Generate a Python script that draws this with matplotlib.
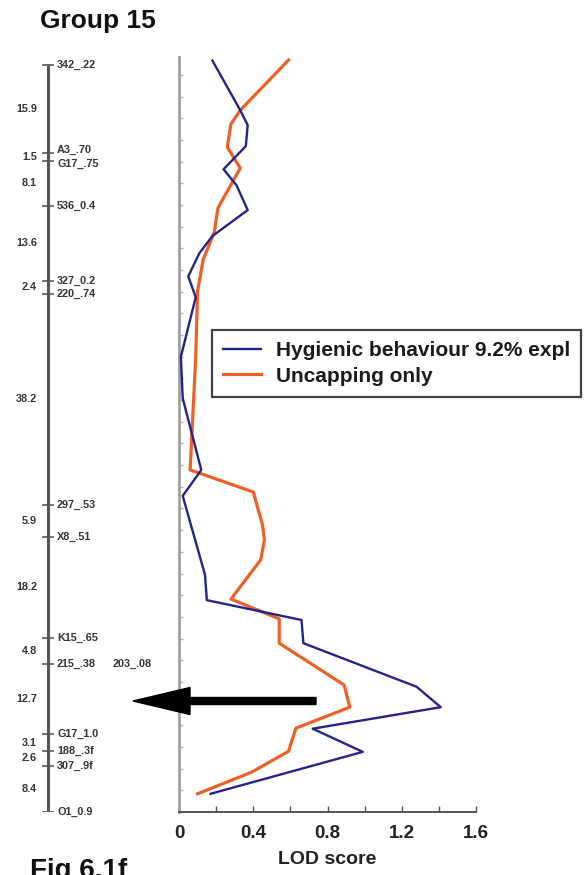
import numpy as np
import matplotlib
matplotlib.use("Agg")
import matplotlib.pyplot as plt
from matplotlib.patches import FancyArrow
from matplotlib.ticker import MultipleLocator, FixedLocator

plt.rcParams['font.family'] = ['Liberation Sans', 'DejaVu Sans']

# ---- linkage group 15: markers and interval lengths (cM) ----
marker_names = ["342_.22", "A3_.70", "G17_.75", "536_0.4", "327_0.2", "220_.74",
                "297_.53", "X8_.51", "K15_.65", "215_.38", "G17_1.0", "188_.3f",
                "307_.9f", "O1_0.9"]
interval_cm = [15.9, 1.5, 8.1, 13.6, 2.4, 38.2, 5.9, 18.2, 4.8, 12.7, 3.1, 2.6, 8.4]
cosegregating = {"215_.38": "203_.08"}

# ---- LOD profiles along the group (position in cM, LOD score) ----
hyg_pos = [-0.8, 8.2, 10.9, 14.7, 18.9, 21.8, 26.3, 31.0, 34.1, 38.3, 42.1, 52.9,
           60.4, 73.4, 78.1, 92.4, 97.0, 100.6, 104.8, 112.7, 116.4, 120.3, 124.5, 132.1]
hyg_lod = [0.18, 0.33, 0.37, 0.36, 0.24, 0.31, 0.37, 0.18, 0.11, 0.05, 0.09, 0.01,
           0.02, 0.12, 0.02, 0.14, 0.15, 0.66, 0.67, 1.28, 1.41, 0.72, 0.99, 0.17]

unc_pos = [-0.9, 8.2, 10.7, 14.9, 18.7, 25.9, 30.3, 35.3, 41.0, 52.9, 73.4, 77.4,
           83.4, 86.1, 89.7, 96.8, 100.4, 104.8, 112.4, 116.4, 120.2, 124.4, 128.2, 132.1]
unc_lod = [0.59, 0.33, 0.28, 0.26, 0.33, 0.21, 0.19, 0.13, 0.10, 0.09, 0.06, 0.40,
           0.45, 0.46, 0.44, 0.28, 0.54, 0.54, 0.89, 0.92, 0.63, 0.59, 0.39, 0.10]

series_labels = ["Hygienic behaviour 9.2% expl", "Uncapping only"]
lod_ticks = [0, 0.4, 0.8, 1.2, 1.6]

W, H = 586, 875
fig = plt.figure(figsize=(W / 100, H / 100), dpi=100)
fig.patch.set_facecolor("white")


def fbox(x0, y0, x1, y1):
    """pixel box (top-left origin) -> figure fraction rect"""
    return [x0 / W, 1 - y1 / H, (x1 - x0) / W, (y1 - y0) / H]


marker_pos = np.concatenate([[0.0], np.cumsum(interval_cm)])
ylim = (marker_pos[-1], -1.45)

# ---- LOD panel ----
ax = fig.add_axes(fbox(179, 57, 476, 812))
ax.plot(hyg_lod, hyg_pos, color="#23238c", lw=1.7, label=series_labels[0], zorder=3)
ax.plot(unc_lod, unc_pos, color="#ef6026", lw=2.3, label=series_labels[1], zorder=2)
ax.set_xlim(0, 1.6)
ax.set_ylim(*ylim)
for s in ("top", "right"):
    ax.spines[s].set_visible(False)
ax.spines["left"].set_color("#a0a0a0")
ax.spines["left"].set_linewidth(2)
ax.spines["bottom"].set_color("#555555")
ax.spines["bottom"].set_linewidth(1.4)
ax.xaxis.set_major_locator(FixedLocator(lod_ticks))
ax.xaxis.set_minor_locator(MultipleLocator(0.2))
ax.set_xticklabels([f"{t:g}" for t in lod_ticks], fontsize=13.5, fontweight="bold",
                   color="#222222")
ax.tick_params(axis="x", which="both", direction="in", length=4, width=1,
               color="#555555", pad=9)
ax.yaxis.set_major_locator(FixedLocator(np.arange(ylim[0], ylim[1], -3.93)))
ax.tick_params(axis="y", which="both", direction="in", length=3, width=1,
               color="#b0b0b0", labelleft=False)
ax.set_xlabel("LOD score", fontsize=14, fontweight="bold", color="#222222", labelpad=7)

leg = fig.legend(loc="upper left", bbox_to_anchor=(212 / W, 1 - 330 / H),
                 fontsize=15, frameon=True, fancybox=False, borderpad=0.55,
                 handlelength=1.8, handletextpad=0.7, labelspacing=0.3,
                 borderaxespad=0)
leg.get_frame().set_edgecolor("#111111")
leg.get_frame().set_linewidth(1.6)
for t in leg.get_texts():
    t.set_fontweight("bold")
    t.set_color("#1a1a1a")

# ---- linkage map panel (x in pixel-like layout units) ----
mx = fig.add_axes(fbox(0, 57, 175, 812))
mx.set_xlim(0, 175)
mx.set_ylim(*ylim)
mx.axis("off")
bar_x = 47.5
mx.plot([bar_x, bar_x], [marker_pos[0], marker_pos[-1]], color="#555555", lw=2.2,
        solid_capstyle="butt")
# tightly spaced marker names are spread apart slightly so they stay legible
label_shift = {"A3_.70": -0.55, "G17_.75": 0.55}
label_kw = dict(fontsize=7.8, fontweight="bold", color="#333333", va="center")
for name, pos in zip(marker_names, marker_pos):
    mx.plot([bar_x - 4.5, bar_x + 5], [pos, pos], color="#555555", lw=1.2)
    ty = pos + label_shift.get(name, 0.0)
    mx.text(57, ty, name, ha="left", **label_kw)
    if name in cosegregating:
        mx.text(113, ty, cosegregating[name], ha="left", **label_kw)
mids = (marker_pos[:-1] + marker_pos[1:]) / 2
for d, m in zip(interval_cm, mids):
    mx.text(37, m, f"{d:.1f}", ha="right", **label_kw)

# arrow pointing at the peak interval
fig.add_artist(FancyArrow(316 / W, 1 - 701 / H, (133 - 316) / W, 0,
                          width=7 / H, head_width=27 / H, head_length=57 / W,
                          length_includes_head=True, color="black",
                          transform=fig.transFigure))

fig.text(40 / W, 1 - 28 / H, "Group 15", fontsize=19, fontweight="bold",
         color="#111111", ha="left", va="baseline")
fig.text(30 / W, 1 - 858 / H, "Fig 6.1f", fontsize=20, fontweight="bold",
         color="#111111", ha="left", va="top")

fig.savefig("out.png", dpi=100, facecolor="white")
